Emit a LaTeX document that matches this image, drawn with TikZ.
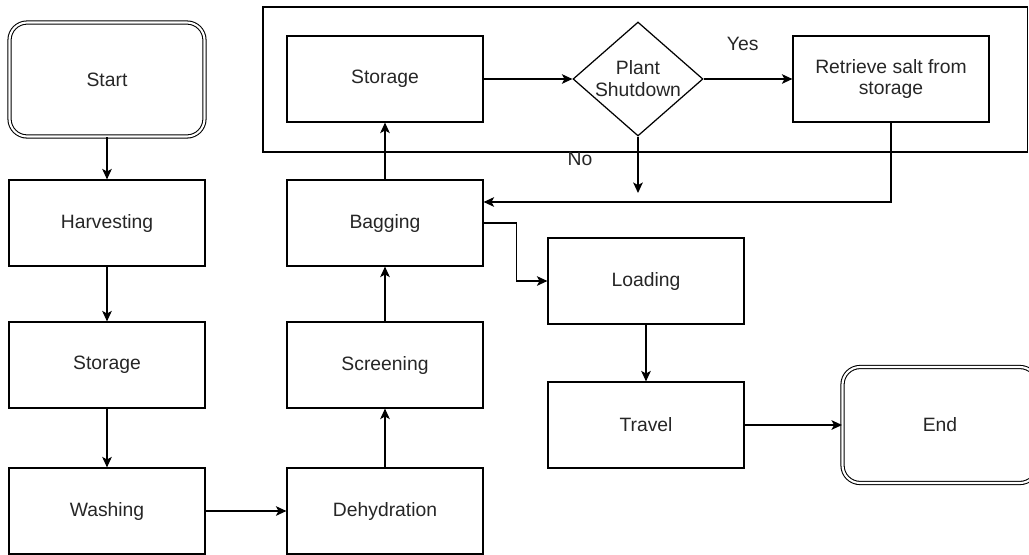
\documentclass[tikz,border=0pt]{standalone}
\usepackage{fontspec}
\setmainfont{Liberation Sans}
\usetikzlibrary{arrows.meta}
\usetikzlibrary{shapes.geometric}

\begin{document}
\begin{tikzpicture}
	[x=0.02cm,y=-0.02cm,line width=0.7pt,
	every node/.style={font=\fontsize{11}{12.5}\selectfont,text=black!85},
	box node/.style={shape=rectangle,draw,minimum width=3.92cm,minimum height=1.72cm,align=center},
	term node/.style={shape=rectangle,draw,double,double distance=1.2pt,line width=0.6pt,rounded corners=10pt,minimum width=3.9cm},
	dec node/.style={shape=diamond,draw,minimum width=2.6cm,minimum height=2.28cm,inner sep=0pt},
	flow/.style={-{Stealth[length=6pt,width=5.5pt,inset=1.5pt]}}
	]
	\useasboundingbox (0,0) rectangle (1029,555);

	% the shutdown check sits in its own frame
	\draw (263,7) rectangle (1027.5,152);

	\node [term node,minimum height=2.28cm] (1) at (107,79.5) {Start};
	\node [box node] (2) at (107,223) {Harvesting};
	\node [box node] (3) at (107,365) {Storage};
	\node [box node] (4) at (107,511) {Washing};

	\node [box node] (5) at (385,511) {Dehydration};
	\node [box node] (6) at (385,365) {Screening};
	\node [box node] (7) at (385,223) {Bagging};
	\node [box node] (8) at (385,79) {Storage};

	\node [dec node,label={[align=center]center:Plant\\Shutdown}] (9) at (638,79) {};
	\node [box node] (10) at (891,79) {Retrieve salt from\\storage};

	\node [box node] (11) at (646,281) {Loading};
	\node [box node] (12) at (646,425) {Travel};
	\node [term node,minimum height=2.32cm] (13) at (940,425) {End};

	\coordinate (14) at (638,193);

	\path[flow]
	(1) edge node {} (2)
	(2) edge node {} (3)
	(3) edge node {} (4)
	(4) edge node {} (5)
	(5) edge node {} (6)
	(6) edge node {} (7)
	(7) edge node {} (8)
	(8) edge node {} (9)
	(9) edge node[pos=0.44,yshift=20pt] {Yes} (10)
	(9) edge node[pos=0.39,xshift=-1.16cm] {No} (14)
	(11) edge node {} (12)
	(12) edge node {} (13)
	;

	\draw[flow] (10.south) |- ([yshift=0.42cm]7.east);
	\draw[flow] (7.east) -- ++(33,0) |- (11.west);

\end{tikzpicture}
\end{document}
